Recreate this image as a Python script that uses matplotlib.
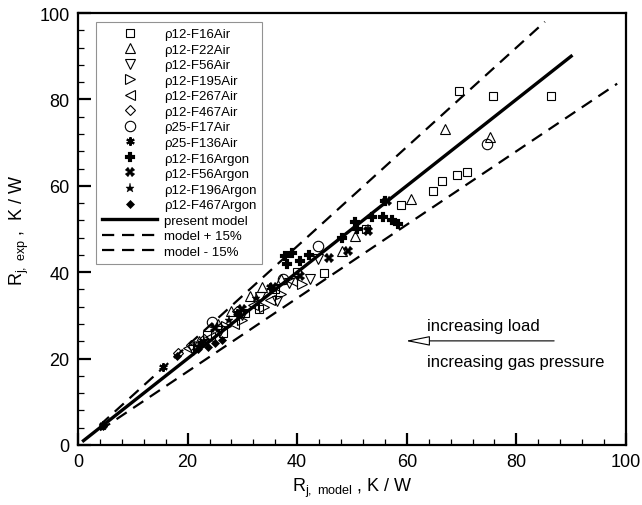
import matplotlib
matplotlib.use("Agg")
import matplotlib.pyplot as plt
import numpy as np
from matplotlib.patches import FancyArrowPatch

plt.rcParams['font.family'] = ['Liberation Sans', 'DejaVu Sans']
plt.rcParams['mathtext.fontset'] = 'custom'
plt.rcParams['mathtext.rm'] = 'Liberation Sans'
plt.rcParams['mathtext.it'] = 'Liberation Sans'

# ---- data ----
f16air_x = [23.5, 26.5, 30.5, 33.0, 36.0, 40.0, 44.9, 52.6, 59.0, 64.8, 66.4, 69.2, 71.0, 69.5, 75.7, 86.3]
f16air_y = [25.5, 26.0, 30.5, 31.5, 36.0, 40.0, 39.8, 50.0, 55.6, 58.8, 61.1, 62.5, 63.2, 81.9, 80.8, 80.8]
f22air_x = [22.0, 25.5, 28.0, 31.4, 33.5, 37.0, 48.2, 50.5, 60.8, 67.0, 75.2]
f22air_y = [24.0, 28.0, 31.0, 34.5, 36.5, 38.5, 44.9, 48.4, 56.9, 73.1, 71.3]
f56air_x = [21.0, 26.0, 30.0, 33.2, 36.3, 38.5, 42.3, 43.8]
f56air_y = [22.0, 26.5, 30.0, 34.3, 33.3, 37.5, 38.4, 43.1]
f195air_x = [22.0, 27.0, 30.0, 34.0, 37.0, 40.9]
f195air_y = [23.0, 27.5, 29.0, 32.0, 35.0, 37.3]
f267air_x = [20.0, 24.0, 28.5, 32.0, 35.0, 39.0]
f267air_y = [22.5, 25.0, 28.0, 32.5, 33.5, 38.0]
f467air_x = [18.2, 20.6, 23.0, 26.0, 29.0]
f467air_y = [21.3, 23.1, 24.5, 27.0, 31.0]
p25f17air_x = [24.4, 37.4, 43.8, 74.6]
p25f17air_y = [28.5, 38.4, 46.1, 69.7]
p25f136air_x = [4.5, 15.5, 22.5, 29.0, 35.0]
p25f136air_y = [4.6, 18.0, 23.5, 30.5, 36.5]
f16argon_x = [37.8, 39.0, 38.1, 40.5, 42.2, 48.2, 50.5, 50.9, 53.6, 55.7, 57.3, 58.4, 56.0]
f16argon_y = [43.8, 44.4, 41.9, 42.6, 44.0, 47.9, 51.6, 50.0, 52.8, 52.8, 52.1, 51.2, 56.5]
f56argon_x = [25.0, 30.0, 35.6, 40.5, 45.8, 49.3, 52.9, 56.4]
f56argon_y = [27.0, 31.5, 36.6, 39.1, 43.3, 44.9, 49.5, 56.5]
f196argon_x = [4.5, 23.0, 27.5, 32.5, 53.0]
f196argon_y = [4.5, 24.0, 29.0, 34.0, 50.0]
f467argon_x = [4.5, 18.1, 21.9, 23.7, 25.0, 26.3]
f467argon_y = [4.3, 20.6, 22.2, 22.7, 23.6, 24.3]

model_x = [1.0, 90.0]
plus_x = [4.0, 85.2]
minus_x = [4.0, 98.4]

labels = ['ρ12-F16Air', 'ρ12-F22Air', 'ρ12-F56Air', 'ρ12-F195Air', 'ρ12-F267Air',
          'ρ12-F467Air', 'ρ25-F17Air', 'ρ25-F136Air', 'ρ12-F16Argon', 'ρ12-F56Argon',
          'ρ12-F196Argon', 'ρ12-F467Argon']
line_labels = ['present model', 'model + 15%', 'model - 15%']

series = [
    (f16air_x, f16air_y, dict(marker='s', ms=6, mfc='none', mec='black', mew=0.8)),
    (f22air_x, f22air_y, dict(marker='^', ms=6.5, mfc='none', mec='black', mew=0.8)),
    (f56air_x, f56air_y, dict(marker='v', ms=6.5, mfc='none', mec='black', mew=0.8)),
    (f195air_x, f195air_y, dict(marker='>', ms=6.5, mfc='none', mec='black', mew=0.8)),
    (f267air_x, f267air_y, dict(marker='<', ms=6.5, mfc='none', mec='black', mew=0.8)),
    (f467air_x, f467air_y, dict(marker='D', ms=5.5, mfc='none', mec='black', mew=0.8)),
    (p25f17air_x, p25f17air_y, dict(marker='o', ms=7.5, mfc='none', mec='black', mew=0.8)),
    (p25f136air_x, p25f136air_y, dict(marker=(6, 2, 0), ms=6, mfc='black', mec='black', mew=1.5)),
    (f16argon_x, f16argon_y, dict(marker='P', ms=6.5, mfc='black', mec='black', mew=0.1)),
    (f56argon_x, f56argon_y, dict(marker='X', ms=6.5, mfc='black', mec='black', mew=0.1)),
    (f196argon_x, f196argon_y, dict(marker='*', ms=6.5, mfc='black', mec='black', mew=0.3)),
    (f467argon_x, f467argon_y, dict(marker='D', ms=4.5, mfc='black', mec='black', mew=0.5)),
]

fig = plt.figure(figsize=(6.42, 5.06), dpi=100)
ax = fig.add_axes([0.1215, 0.1186, 0.8535, 0.8537])

handles = []
for (x, y, st), lab in zip(series, labels):
    h, = ax.plot(x, y, ls='none', label=lab, **st)
    handles.append(h)

mx = np.array(model_x)
px = np.array(plus_x)
nx = np.array(minus_x)
h1, = ax.plot(mx, mx, color='black', lw=2.4, label=line_labels[0])
h2, = ax.plot(px, 1.15 * px, color='black', lw=1.6, dashes=(5.5, 3.5), label=line_labels[1])
h3, = ax.plot(nx, 0.85 * nx, color='black', lw=1.6, dashes=(5.5, 3.5), label=line_labels[2])
handles += [h1, h2, h3]

leg = ax.legend(handles=handles, loc='upper left', bbox_to_anchor=(0.033, 0.979),
                fontsize=9.5, frameon=True, fancybox=False, edgecolor='#777777',
                handlelength=4.2, handletextpad=0.5, labelspacing=0.25,
                borderpad=0.45, borderaxespad=0, numpoints=1)
leg.get_frame().set_linewidth(0.8)

# arrow annotation
arr = FancyArrowPatch((87.4, 24.1), (59.3, 24.1),
                      arrowstyle='-|>,head_length=1.5,head_width=0.3',
                      mutation_scale=10, facecolor='white', edgecolor='black', lw=0.8)
ax.add_patch(arr)
ax.text(63.7, 27.6, 'increasing load', fontsize=12, va='center', ha='left')
ax.text(63.7, 19.4, 'increasing gas pressure', fontsize=12, va='center', ha='left')

ax.set_xlim(0, 100)
ax.set_ylim(0, 100)
ax.set_xticks(np.arange(0, 101, 20))
ax.set_yticks(np.arange(0, 101, 20))
ax.set_xticks(np.arange(0, 101, 4), minor=True)
ax.set_yticks(np.arange(0, 101, 4), minor=True)
ax.tick_params(which='major', direction='in', length=9, width=1.6, labelsize=13,
               top=False, right=False, pad=6)
ax.tick_params(which='minor', direction='in', length=4.5, width=0.9, top=False, right=False)
for s in ax.spines.values():
    s.set_linewidth(1.6)

ax.set_xlabel(r'R$_{\rm j,\ model}$ , K / W', fontsize=13, labelpad=4)
ax.set_ylabel(r'R$_{\rm j,\ exp}$ ,  K / W', fontsize=13, labelpad=6)

fig.savefig('out.png', dpi=100)
